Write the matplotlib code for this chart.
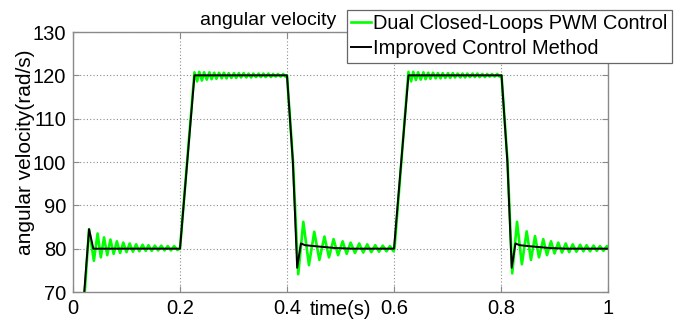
import matplotlib.pyplot as plt

plt.rcParams['font.family'] = ['Liberation Sans', 'DejaVu Sans']

# Dual Closed-Loops PWM Control (green), read peak by peak off the picture
# start-up, settling at 80 rad/s
green_start_t = [0.022, 0.030, 0.039, 0.046, 0.052, 0.058, 0.064, 0.070, 0.076, 0.082,
                 0.088, 0.094, 0.100, 0.106, 0.112, 0.118, 0.124, 0.130, 0.136, 0.141,
                 0.147, 0.153, 0.159, 0.165, 0.171, 0.177, 0.183, 0.189, 0.195, 0.200]
green_start_v = [70.0, 84.5, 77.2, 83.5, 78.0, 82.6, 78.5, 82.1, 78.8, 81.7,
                 79.0, 81.4, 79.2, 81.2, 79.3, 81.0, 79.4, 80.9, 79.5, 80.8,
                 79.5, 80.7, 79.6, 80.7, 79.6, 80.6, 79.6, 80.6, 79.7, 80.0]
# first step up, ripple at 120 rad/s
green_high1_t = [0.227, 0.232, 0.236, 0.241, 0.245, 0.250, 0.255, 0.259, 0.264, 0.268,
                 0.273, 0.278, 0.282, 0.287, 0.291, 0.296, 0.301, 0.305, 0.310, 0.314,
                 0.319, 0.324, 0.328, 0.333, 0.337, 0.342, 0.347, 0.351, 0.356, 0.360,
                 0.365, 0.370, 0.374, 0.379, 0.383, 0.388, 0.393, 0.397, 0.400]
green_high1_v = [120.7, 118.6, 120.8, 118.8, 120.7, 119.0, 120.7, 119.1, 120.6, 119.2,
                 120.6, 119.3, 120.6, 119.3, 120.5, 119.4, 120.5, 119.4, 120.5, 119.5,
                 120.5, 119.5, 120.4, 119.5, 120.4, 119.6, 120.4, 119.6, 120.4, 119.6,
                 120.4, 119.6, 120.3, 119.7, 120.3, 119.7, 120.3, 119.7, 120.0]
# first step down, settling at 80 rad/s
green_low1_t = [0.411, 0.421, 0.4305, 0.441, 0.451, 0.4605, 0.470, 0.4785, 0.487, 0.4955,
                0.504, 0.5115, 0.519, 0.527, 0.535, 0.5425, 0.550, 0.5575, 0.565, 0.572,
                0.579, 0.586, 0.5925, 0.599, 0.601]
green_low1_v = [100.5, 74.1, 86.2, 76.2, 83.9, 77.4, 82.8, 78.0, 82.2, 78.5,
                81.7, 78.8, 81.4, 79.0, 81.2, 79.1, 81.0, 79.2, 80.8, 79.3,
                80.7, 79.4, 80.6, 79.4, 80.1]
# second step up
green_high2_t = [0.627, 0.632, 0.636, 0.641, 0.645, 0.650, 0.655, 0.659, 0.664, 0.668,
                 0.673, 0.678, 0.682, 0.687, 0.691, 0.696, 0.701, 0.705, 0.710, 0.714,
                 0.719, 0.724, 0.728, 0.733, 0.737, 0.742, 0.747, 0.751, 0.756, 0.760,
                 0.765, 0.770, 0.774, 0.779, 0.783, 0.788, 0.793, 0.797, 0.801]
green_high2_v = [120.8, 118.6, 120.8, 118.9, 120.7, 119.0, 120.7, 119.1, 120.6, 119.2,
                 120.6, 119.3, 120.5, 119.3, 120.5, 119.4, 120.5, 119.4, 120.5, 119.5,
                 120.4, 119.5, 120.4, 119.5, 120.4, 119.6, 120.4, 119.6, 120.4, 119.6,
                 120.3, 119.6, 120.3, 119.7, 120.3, 119.7, 120.3, 119.7, 120.0]
# second step down
green_low2_t = [0.812, 0.821, 0.830, 0.839, 0.848, 0.856, 0.8636, 0.871, 0.879, 0.886,
                0.8935, 0.900, 0.907, 0.914, 0.921, 0.9275, 0.934, 0.941, 0.948, 0.954,
                0.960, 0.9665, 0.973, 0.979, 0.985, 0.9915, 0.998, 1.000]
green_low2_v = [100.5, 74.3, 86.2, 76.4, 84.0, 77.4, 82.9, 78.0, 82.2, 78.5,
                81.7, 78.9, 81.4, 79.1, 81.2, 79.2, 81.0, 79.3, 80.9, 79.4,
                80.8, 79.4, 80.7, 79.5, 80.6, 79.5, 80.6, 80.3]

# Improved Control Method (black)
black_t = [0.021, 0.030, 0.038, 0.200, 0.227, 0.400, 0.411, 0.419, 0.426, 0.434,
           0.4585, 0.490, 0.521, 0.600, 0.627, 0.801, 0.812, 0.820, 0.827, 0.835,
           0.859, 0.891, 0.922, 1.000]
black_v = [70.0, 84.5, 80.0, 80.0, 120.0, 120.0, 100.0, 75.6, 81.2, 80.8,
           80.5, 80.15, 80.0, 80.0, 120.0, 120.0, 100.0, 75.6, 81.2, 80.8,
           80.5, 80.15, 80.0, 80.0]

x_ticks = [0, 0.2, 0.4, 0.6, 0.8, 1]
x_tick_labels = ["0", "0.2", "0.4", "0.6", "0.8", "1"]
y_ticks = [70, 80, 90, 100, 110, 120, 130]


def main():
    green_t = green_start_t + green_high1_t + green_low1_t + green_high2_t + green_low2_t
    green_v = green_start_v + green_high1_v + green_low1_v + green_high2_v + green_low2_v

    fig = plt.figure(figsize=(6.78, 3.2), dpi=100)
    ax = fig.add_axes([73 / 678, 28 / 320, 535 / 678, 260 / 320])

    ax.plot(green_t, green_v, color="#00ff00", linewidth=1.9,
            label="Dual Closed-Loops PWM Control")
    ax.plot(black_t, black_v, color="black", linewidth=1.4,
            label="Improved Control Method")

    ax.set_xlim(0, 1)
    ax.set_ylim(70, 130)
    ax.set_xticks(x_ticks)
    ax.set_xticklabels(x_tick_labels)
    ax.set_yticks(y_ticks)

    ax.grid(True, color="#8c8c8c", linestyle=(0, (1, 2)), linewidth=0.8)
    for side in ax.spines.values():
        side.set_color("#8a8a8a")
        side.set_linewidth(1.0)
    ax.tick_params(direction="in", top=True, right=True, length=4,
                   color="#8a8a8a", labelsize=14.5, pad=5)

    ax.text(0.364, 1.027, "angular velocity", transform=ax.transAxes,
            ha="center", va="baseline", fontsize=14)
    ax.set_xlabel("time(s)", fontsize=14.5)
    ax.xaxis.set_label_coords(0.5, -0.03)
    fig.text(25.5 / 678, 0.523, "angular velocity(rad/s)", rotation=90,
             ha="center", va="center", fontsize=15)

    leg = ax.legend(loc="upper left", bbox_to_anchor=(347 / 678, 1 - 10 / 320),
                    bbox_transform=fig.transFigure, borderaxespad=0,
                    fontsize=14.4, handlelength=1.0, handletextpad=0.1,
                    borderpad=0.22, labelspacing=0.3, fancybox=False,
                    framealpha=1)
    leg.get_frame().set_edgecolor("#666666")
    leg.get_frame().set_linewidth(0.9)

    fig.savefig("out.png", dpi=100)


if __name__ == "__main__":
    main()
